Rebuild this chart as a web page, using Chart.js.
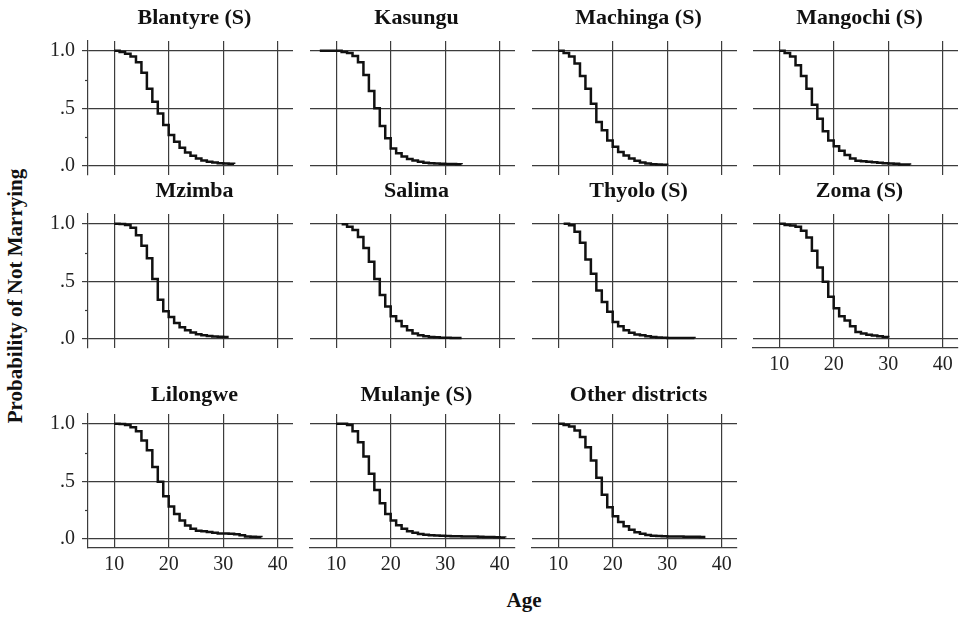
<!DOCTYPE html>
<html>
<head>
<meta charset="utf-8">
<script src="https://cdn.jsdelivr.net/npm/chart.js@4.4.1/dist/chart.umd.min.js"></script>
<style>
body { margin:0; background:#fff; width:963px; height:617px; position:relative; overflow:hidden; font-family:"Liberation Serif", serif; }
canvas { position:absolute; }
.axis-title { position:absolute; font-weight:bold; font-size:21px; color:#111; white-space:nowrap; line-height:1; }
#ytitle { left:15px; top:296px; transform:translate(-50%,-50%) rotate(-90deg); }
#xtitle { left:524px; top:600px; transform:translate(-50%,-50%); }
</style>
</head>
<body>
<div class="axis-title" id="ytitle">Probability of Not Marrying</div>
<div class="axis-title" id="xtitle">Age</div>
<script>
// ages at which the survival estimate is read (shared by all panels)
var ages = [7,8,9,10,11,12,13,14,15,16,17,18,19,20,21,22,23,24,25,26,27,28,29,30,31,32,33,34,35,36,37,38,39,40,41];

var blantyre = [null,null,null,1.0,0.99,0.975,0.95,0.90,0.81,0.67,0.556,0.455,0.354,0.267,0.21,0.157,0.116,0.087,0.064,0.046,0.035,0.029,0.023,0.02,0.018,0.015,null,null,null,null,null,null,null,null,null];
var kasungu = [1,1,1,1,0.99,0.98,0.955,0.90,0.79,0.65,0.50,0.345,0.24,0.15,0.11,0.08,0.06,0.045,0.035,0.027,0.023,0.02,0.018,0.016,0.015,0.014,0.013,null,null,null,null,null,null,null,null];
var machinga = [null,null,null,1.0,0.98,0.95,0.89,0.78,0.67,0.54,0.38,0.31,0.22,0.165,0.12,0.09,0.064,0.043,0.029,0.02,0.014,0.012,0.009,0.008,null,null,null,null,null,null,null,null,null,null,null];
var mangochi = [null,null,null,1.0,0.98,0.95,0.875,0.78,0.67,0.53,0.41,0.30,0.22,0.17,0.13,0.093,0.064,0.043,0.04,0.035,0.03,0.026,0.023,0.02,0.018,0.012,0.011,0.01,null,null,null,null,null,null,null];
var mzimba = [null,null,null,1.0,0.998,0.99,0.965,0.90,0.81,0.70,0.52,0.34,0.24,0.19,0.137,0.10,0.075,0.055,0.04,0.03,0.025,0.02,0.018,0.015,0.015,null,null,null,null,null,null,null,null,null,null];
var salima = [null,null,null,null,0.995,0.975,0.945,0.885,0.79,0.67,0.52,0.38,0.28,0.195,0.155,0.11,0.075,0.045,0.03,0.022,0.016,0.013,0.01,0.009,0.008,0.007,0.007,null,null,null,null,null,null,null,null];
var thyolo = [null,null,null,null,1.0,0.988,0.93,0.835,0.69,0.565,0.42,0.32,0.235,0.145,0.11,0.075,0.052,0.038,0.03,0.022,0.016,0.012,0.01,0.008,0.007,0.007,0.007,0.007,0.006,null,null,null,null,null,null];
var zoma = [null,null,null,1.0,0.99,0.985,0.974,0.94,0.88,0.765,0.62,0.495,0.365,0.265,0.195,0.16,0.11,0.06,0.045,0.035,0.028,0.022,0.016,0.012,null,null,null,null,null,null,null,null,null,null,null];
var lilongwe = [null,null,null,1.0,0.997,0.99,0.97,0.935,0.855,0.77,0.625,0.495,0.37,0.28,0.215,0.16,0.115,0.087,0.07,0.065,0.06,0.052,0.047,0.045,0.044,0.04,0.03,0.02,0.017,0.015,0.014,null,null,null,null];
var mulanje = [null,null,null,1.0,1.0,0.99,0.935,0.84,0.715,0.565,0.425,0.31,0.215,0.16,0.118,0.087,0.066,0.052,0.042,0.036,0.031,0.028,0.026,0.024,0.023,0.022,0.021,0.02,0.019,0.018,0.016,0.015,0.014,0.012,0.011];
var otherDistricts = [null,null,null,1.0,0.99,0.977,0.942,0.884,0.797,0.68,0.53,0.383,0.275,0.197,0.145,0.11,0.078,0.058,0.043,0.032,0.027,0.024,0.022,0.021,0.02,0.019,0.018,0.018,0.017,0.016,0.016,null,null,null,null];

var panelNames = ['Blantyre (S)', 'Kasungu', 'Machinga (S)', 'Mangochi (S)', 'Mzimba', 'Salima', 'Thyolo (S)', 'Zoma (S)', 'Lilongwe', 'Mulanje (S)', 'Other districts'];
var panelSeries = [blantyre, kasungu, machinga, mangochi, mzimba, salima, thyolo, zoma, lilongwe, mulanje, otherDistricts];

var xTicks = [10, 20, 30, 40];
var yTicks = [0, 0.5, 1];
var yTickLabels = ['.0', '.5', '1.0'];
var yMinorTicks = [0.25, 0.75];

// layout of the panel grid (plot areas in page pixels)
var PANEL_W = 205, PANEL_H = 134;
var colLeft = [88, 310, 532, 753];
var rowTop = [41, 214, 414];
var titleGap = [17.5, 17.5, 13.5];
var PAD_L = 95, PAD_T = 40, PAD_B = 50, PAD_R = 6;
var FONT = '"Liberation Serif", "Times New Roman", serif';
var GRID = '#3c3c3c';

// panel title + minor y ticks, drawn relative to the chart area
var panelDecor = {
    id: 'panelDecor',
    afterDraw: function(chart, args, opts) {
        var ctx = chart.ctx, a = chart.chartArea;
        ctx.save();
        ctx.fillStyle = '#111';
        ctx.font = 'bold 22px ' + FONT;
        ctx.textAlign = 'center';
        ctx.textBaseline = 'alphabetic';
        ctx.fillText(opts.text, (a.left + a.right) / 2 + 4, a.top - opts.gap);
        if (opts.minor) {
            var y = chart.scales.y;
            ctx.strokeStyle = GRID;
            ctx.lineWidth = 1.2;
            yMinorTicks.forEach(function(v) {
                var py = Math.round(y.getPixelForValue(v)) + 0.5;
                ctx.beginPath();
                ctx.moveTo(a.left - 3, py);
                ctx.lineTo(a.left, py);
                ctx.stroke();
            });
        }
        ctx.restore();
    }
};

function makePanel(i) {
    var col = i % 4, row = Math.floor(i / 4);
    var showY = col === 0;
    var showX = row === 2 || i === 7;

    var canvas = document.createElement('canvas');
    canvas.width = PAD_L + PANEL_W + PAD_R;
    canvas.height = PAD_T + PANEL_H + PAD_B;
    canvas.style.left = (colLeft[col] - PAD_L) + 'px';
    canvas.style.top = (rowTop[row] - PAD_T) + 'px';
    document.body.appendChild(canvas);

    var points = [];
    panelSeries[i].forEach(function(v, k) {
        if (v !== null) points.push({ x: ages[k], y: v });
    });

    new Chart(canvas.getContext('2d'), {
        type: 'line',
        data: {
            datasets: [{
                data: points,
                borderColor: '#111',
                borderWidth: 2.5,
                pointRadius: 0,
                stepped: true,
                fill: false
            }]
        },
        options: {
            responsive: false,
            animation: false,
            events: [],
            layout: { padding: { left: 0, top: PAD_T, right: PAD_R, bottom: 0 } },
            plugins: {
                legend: { display: false },
                tooltip: { enabled: false },
                panelDecor: { text: panelNames[i], gap: titleGap[row], minor: showY }
            },
            scales: {
                x: {
                    type: 'linear',
                    min: 5.2, max: 42.8,
                    afterBuildTicks: function(s) { s.ticks = xTicks.map(function(v) { return { value: v }; }); },
                    afterFit: function(s) { s.height = PAD_B; },
                    grid: { color: GRID, lineWidth: 1.2, drawTicks: false },
                    border: { display: showX, color: GRID, width: 1.2 },
                    ticks: {
                        display: showX, padding: 5, color: '#222',
                        font: { family: FONT, size: 20 },
                        maxRotation: 0,
                        callback: function(v) { return String(v); }
                    }
                },
                y: {
                    type: 'linear',
                    min: -0.08, max: 1.085,
                    afterBuildTicks: function(s) { s.ticks = yTicks.map(function(v) { return { value: v }; }); },
                    afterFit: function(s) { s.width = PAD_L; },
                    grid: { color: GRID, lineWidth: 1.2, drawTicks: showY, tickLength: 6 },
                    border: { display: showY, color: GRID, width: 1.2 },
                    ticks: {
                        display: showY, padding: 7, color: '#222',
                        font: { family: FONT, size: 20 },
                        callback: function(v) { return yTickLabels[yTicks.indexOf(v)]; }
                    }
                }
            }
        },
        plugins: [panelDecor]
    });
}

for (var i = 0; i < panelNames.length; i++) makePanel(i);
</script>
</body>
</html>
